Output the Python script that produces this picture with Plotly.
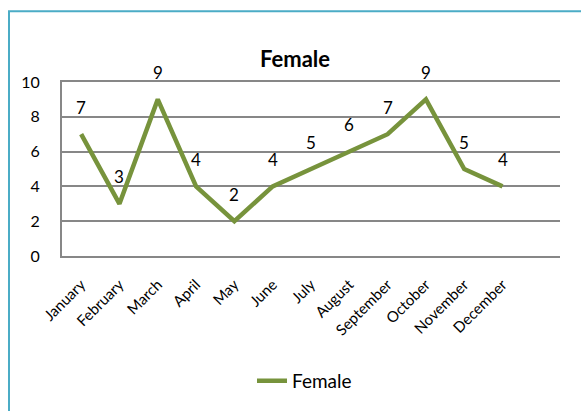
import plotly.graph_objects as go

months = ["January", "February", "March", "April", "May", "June", "July",
          "August", "September", "October", "November", "December"]
female = [7, 3, 9, 4, 2, 4, 5, 6, 7, 9, 5, 4]
y_ticks = [0, 2, 4, 6, 8, 10]

W, H = 581, 411
L, R, T, B = 62, 21, 82, 152
pw, ph = W - L - R, H - T - B


def px_x(p):
    return (p - L) / pw


def px_y(p):
    return (H - B - p) / ph


FONT = "Lato"
GREEN = "#77933C"
GRID = "#878787"

xs = list(range(len(months)))

fig = go.Figure()
fig.add_trace(go.Scatter(
    x=xs, y=female, mode="lines", name="Female",
    line=dict(color=GREEN, width=4.5),
    showlegend=True,
))

# value labels above each point
for x, v in zip(xs, female):
    fig.add_annotation(x=x, y=v, text=str(v), showarrow=False,
                       yshift=27, font=dict(family=FONT, size=17, color="#000000"))

# chart title
fig.add_annotation(x=px_x(295), y=px_y(42), xref="paper", yref="paper",
                   text="<b>Female</b>", showarrow=False,
                   font=dict(family=FONT, size=22, color="#000000"))

# outer chart border
fig.add_shape(type="rect", xref="paper", yref="paper",
              x0=px_x(9), x1=px_x(600), y0=px_y(430), y1=px_y(10),
              line=dict(color="#4BACC6", width=2), fillcolor="rgba(0,0,0,0)",
              layer="below")

fig.update_layout(
    width=W, height=H,
    margin=dict(l=L, r=R, t=T, b=B),
    paper_bgcolor="white", plot_bgcolor="white",
    font=dict(family=FONT, color="#000000"),
    showlegend=True,
    legend=dict(orientation="h", x=px_x(252), y=px_y(386),
                xanchor="left", yanchor="middle",
                font=dict(family=FONT, size=19, color="#000000"),
                bgcolor="rgba(0,0,0,0)"),
)
fig.update_xaxes(
    range=[-0.5, 12.5], tickvals=xs, ticktext=months, tickangle=-45,
    showgrid=False, zeroline=False, showline=True, linecolor=GRID, linewidth=2,
    mirror=True, ticks="", ticklabelstandoff=12,
    tickfont=dict(family=FONT, size=15, color="#000000"),
)
fig.update_yaxes(
    range=[0, 10], tickvals=y_ticks, showgrid=True, gridcolor=GRID, gridwidth=2,
    zeroline=False, showline=True, linecolor=GRID, linewidth=2, ticks="",
    ticklabelstandoff=17,
    tickfont=dict(family=FONT, size=16, color="#000000"),
)

fig.write_html("out.html")
